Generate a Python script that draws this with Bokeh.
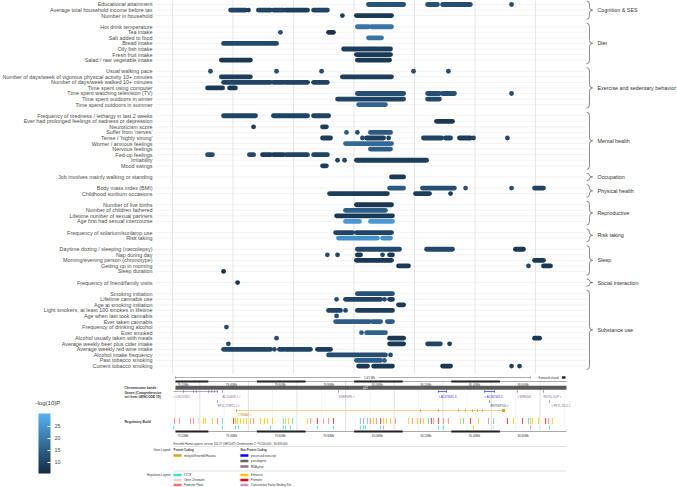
import numpy as np
from bokeh.plotting import figure
from bokeh.models import Range1d, FixedTicker, LinearColorMapper, ColorBar, ColumnDataSource
from bokeh.transform import transform
from bokeh.core.properties import value
from bokeh.embed import file_html
from bokeh.resources import INLINE

FONT = "Liberation Sans"

# ---------------------------------------------------------------- data
group_names = ["Cognition & SES", "Diet", "Exercise and sedentary behavior", "Mental health",
               "Occupation", "Physical health", "Reproductive", "Risk taking", "Sleep",
               "Social interaction", "Substance use"]
group_sizes = [3, 7, 7, 10, 1, 2, 4, 2, 5, 1, 14]

trait_labels = [
    "Educational attainment", "Average total household income before tax", "Number in household",
    "Hot drink temperature", "Tea intake", "Salt added to food", "Bread intake", "Oily fish intake",
    "Fresh fruit intake", "Salad / raw vegetable intake",
    "Usual walking pace", "Number of days/week of vigorous physical activity 10+ minutes",
    "Number of days/week walked 10+ minutes", "Time spent using computer",
    "Time spent watching television (TV)", "Time spent outdoors in winter", "Time spend outdoors in summer",
    "Frequency of tiredness / lethargy in last 2 weeks", "Ever had prolonged feelings of sadness or depression",
    "Neuroticism score", "Suffer from 'nerves'", "Tense / 'highly strung'", "Worrier / anxious feelings",
    "Nervous feelings", "Fed-up feelings", "Irritability", "Mood swings",
    "Job involves mainly walking or standing",
    "Body mass index (BMI)", "Childhood sunburn occasions",
    "Number of live births", "Number of children fathered", "Lifetime number of sexual partners",
    "Age first had sexual intercourse",
    "Frequency of solarium/sunlamp use", "Risk taking",
    "Daytime dozing / sleeping (narcolepsy)", "Nap during day", "Morning/evening person (chronotype)",
    "Getting up in morning", "Sleep duration",
    "Frequency of friend/family visits",
    "Smoking initiation", "Lifetime cannabis use", "Age at smoking initiation",
    "Light smokers, at least 100 smokes in lifetime", "Age when last took cannabis", "Ever taken cannabis",
    "Frequency of drinking alcohol", "Ever smoked", "Alcohol usually taken with meals",
    "Average weekly beer plus cider intake", "Average weekly red wine intake", "Alcohol intake frequency",
    "Past tobacco smoking", "Current tobacco smoking"]

# SNP clusters (position in Mb): trait row, first SNP, last SNP, -log10 P
snp_row = [0, 0, 0, 0,
           1, 1, 1, 1, 1, 1,
           2, 2,
           3, 3, 4, 4, 5, 6, 7, 8, 9, 9,
           10, 10, 10, 10, 10, 11, 11, 12, 12, 12, 12, 13, 13,
           14, 14, 14, 14, 15, 15, 16,
           17, 17, 17, 18, 19, 19, 20, 20, 20,
           21, 21, 21, 21, 21, 21, 21, 21, 21,
           22, 23, 24, 24, 24, 24, 24, 24, 25, 25, 25, 26,
           27, 28, 28, 28, 28, 28, 29, 29, 29,
           30, 31, 32, 33, 33, 33, 34, 34, 35, 35,
           36, 36, 36, 37, 37, 37, 37, 37, 38, 38, 39, 39, 39, 40, 41,
           42, 43, 43, 43, 43, 44, 45, 45, 45, 46, 47, 47, 47, 48, 49, 49,
           50, 50, 50, 51, 51, 51, 51, 52, 52, 52, 52, 52, 53, 53, 53, 54, 54,
           55, 55, 55, 55, 55]
snp_start = [80.060, 80.304, 80.366, 80.651,
             79.490, 79.564, 79.605, 79.667, 79.717, 79.833,
             79.952, 80.010,
             80.014, 80.072, 79.696, 79.895, 80.060, 79.461, 79.957, 80.010, 79.452, 80.014,
             79.407, 79.680, 79.866, 80.246, 80.390, 79.452, 79.952, 79.461, 79.667, 79.717, 79.833, 79.395, 79.486,
             80.014, 80.304, 80.366, 80.651, 79.932, 80.304, 80.019,
             79.461, 79.667, 79.833, 80.341, 79.585, 79.870, 79.969, 80.014, 80.068,
             79.870, 80.035, 80.052, 80.143, 80.287, 80.378, 80.436, 80.494, 80.634,
             79.965, 80.068, 79.395, 79.568, 79.622, 79.667, 79.721, 79.833, 79.932, 79.961, 80.010, 79.870,
             80.155, 80.147, 80.283, 80.461, 80.651, 80.746, 79.899, 80.254, 80.399,
             80.010, 79.965, 79.928, 79.965, 80.068, 80.097, 79.924, 80.010, 79.936, 80.118,
             80.014, 80.300, 80.667, 79.890, 79.932, 80.014, 80.118, 80.147, 80.010, 80.746, 80.184, 80.721, 80.783,
             79.461, 79.519,
             80.014, 79.928, 79.965, 80.126, 80.147, 80.184, 79.895, 79.965, 80.014, 79.928, 79.924, 80.076, 80.138,
             79.473, 80.031, 80.052,
             79.680, 80.147, 80.746, 79.481, 80.147, 80.304, 80.395, 79.461, 79.671, 79.692, 79.717, 79.849,
             79.895, 80.027, 80.151, 80.010, 80.126,
             80.019, 80.081, 80.366, 80.651, 80.684]
snp_end = [80.205, 80.345, 80.481, 80.651,
           79.552, 79.564, 79.655, 79.709, 79.808, 79.890,
           79.952, 80.155,
           80.060, 80.155, 79.696, 79.915, 80.114, 79.680, 80.151, 80.151, 79.572, 80.147,
           79.407, 79.680, 79.866, 80.246, 80.390, 79.572, 80.155, 79.655, 79.709, 79.808, 79.890, 79.457, 79.510,
           80.205, 80.353, 80.415, 80.651, 80.205, 80.353, 80.130,
           79.593, 79.808, 79.895, 80.407, 79.585, 79.886, 79.969, 80.014, 80.151,
           79.903, 80.035, 80.122, 80.143, 80.362, 80.399, 80.481, 80.494, 80.634,
           80.155, 80.151, 79.415, 79.585, 79.655, 79.709, 79.808, 79.890, 79.932, 79.961, 80.300, 79.886,
           80.205, 80.205, 80.415, 80.461, 80.651, 80.783, 80.138, 80.312, 80.399,
           80.155, 80.130, 80.159, 80.023, 80.089, 80.159, 79.994, 80.155, 80.097, 80.151,
           80.188, 80.407, 80.700, 79.890, 79.932, 80.027, 80.118, 80.159, 80.155, 80.783, 80.225, 80.721, 80.812,
           79.461, 79.519,
           80.159, 79.928, 80.110, 80.126, 80.159, 80.205, 79.944, 79.965, 80.159, 79.928, 80.064, 80.110, 80.159,
           79.473, 80.031, 80.130,
           79.680, 80.205, 80.767, 79.481, 80.205, 80.357, 80.395, 79.655, 79.671, 79.709, 79.820, 79.903,
           80.019, 80.130, 80.151, 80.110, 80.126,
           80.056, 80.159, 80.399, 80.651, 80.684]
snp_logp = [13, 13, 12, 12,
            10, 9, 10, 10, 9, 10,
            9, 8,
            19, 19, 12, 7, 19, 11, 9, 8, 8, 8,
            12, 12, 12, 12, 12, 9, 9, 10, 10, 10, 10, 8, 8,
            12, 12, 12, 12, 10, 11, 16,
            10, 10, 10, 8, 9, 9, 14, 12, 14,
            9, 11, 9, 10, 10, 10, 9, 10, 11,
            17, 15, 12, 11, 9, 9, 10, 10, 10, 11, 9, 9,
            8, 14, 12, 13, 12, 10, 9, 9, 9,
            8, 15, 8, 26, 26, 26, 10, 10, 24, 24,
            11, 11, 8, 12, 10, 8, 11, 8, 8, 8, 8, 11, 8,
            7, 8,
            13, 12, 10, 11, 9, 8, 10, 11, 9, 12, 15, 15, 15,
            12, 15, 16,
            12, 8, 8, 12, 8, 10, 9, 10, 11, 10, 10, 9,
            12, 12, 12, 15, 15,
            8, 8, 8, 10, 10]
grid_ticks = [79.25, 79.50, 79.75, 80.00, 80.25, 80.50, 80.75]
logp_low, logp_high = 5.4, 30.4
colorbar_ticks = [10, 15, 20, 25]

# Ensembl region view (positions in Mb)
ruler_ticks = [79.2, 79.4, 79.6, 79.8, 80.0, 80.2, 80.4, 80.6]
ruler_labels = ["79.20Mb", "79.40Mb", "79.60Mb", "79.80Mb", "80.00Mb", "80.20Mb", "80.40Mb", "80.60Mb"]
region_start, region_end = 79.2, 80.809
ctnna2_start, ctnna2_end = 79.451, 80.550
ctnna2_exons = [79.451, 80.208, 80.282, 80.365, 80.393, 80.422, 80.443, 80.463]
lnc_start, lnc_end = 79.192, 79.373
lnc_exons = [79.233, 79.274, 79.286, 79.336, 79.348, 79.360, 79.373]
rna_ticks = [79.393, 79.871, 80.607, 80.714]
rna_ticks_low = [79.373, 80.739]
proc_start = [80.282, 80.472]
proc_end = [80.315, 80.513]
pseudo_ticks = [80.492]
gene_lab_x = [79.192, 79.393, 79.871, 80.607, 80.714, 79.373, 80.747]
gene_lab_y = [396, 396, 396, 396, 396, 405, 405]
gene_lab_text = ["< LINC01815", "AC104698.1 >", "SNRPGP8 >", "< MIR4264", "RN7SL105P >", "RP11-728P21.2 >", "< RP11-1N11.2"]
proc_lab_x = [80.282, 80.472]
proc_lab_text = ["< AC073091.3", "< AC007401.2"]

reg_up_pos = [79.196, 79.216, 79.262, 79.274, 79.295, 79.315, 79.323, 79.352, 79.373, 79.393,
              79.439, 79.447, 79.455, 79.467, 79.480, 79.492, 79.509, 79.521, 79.550, 79.566,
              79.579, 79.599, 79.644, 79.653, 79.665, 79.681, 79.743, 79.756, 79.784, 79.809,
              79.830, 79.850, 79.961, 79.974, 79.990, 80.002, 80.015, 80.027, 80.044, 80.056,
              80.068, 80.085, 80.105, 80.159, 80.175, 80.196, 80.208, 80.221, 80.241, 80.253,
              80.262, 80.282, 80.303, 80.323, 80.373, 80.385, 80.414, 80.447, 80.488, 80.509,
              80.566, 80.591, 80.628, 80.653, 80.661, 80.669, 80.694, 80.723, 80.735, 80.751]
reg_up_type = ["pf", "pf", "pf", "pf", "oc", "enh", "enh", "enh", "pf", "ctcf",
               "pr", "enh", "enh", "enh", "enh", "enh", "enh", "pf", "enh", "enh",
               "enh", "enh", "ctcf", "enh", "enh", "ctcf", "enh", "pf", "pr", "tf",
               "pf", "pr", "ctcf", "pf", "ctcf", "pf", "enh", "pf", "pr", "enh",
               "enh", "enh", "pf", "enh", "pf", "enh", "pf", "enh", "ctcf", "pr",
               "pf", "pr", "pf", "pf", "enh", "ctcf", "pr", "enh", "pf", "ctcf",
               "pr", "enh", "pr", "ctcf", "enh", "enh", "enh", "pr", "pf", "enh"]
reg_low_pos = [79.192, 79.393, 79.447, 79.459, 79.591, 79.644, 79.653, 79.673, 79.784, 79.850,
               79.961, 79.974, 79.982, 80.044, 80.056, 80.282, 80.303, 80.426, 80.509, 80.661, 80.739]
reg_low_type = ["ctcf", "ctcf", "ctcf", "ctcf", "ctcf", "ctcf", "ctcf", "ctcf", "ctcf", "ctcf",
                "ctcf", "ctcf", "ctcf", "ctcf", "pf", "ctcf", "ctcf", "enh", "oc", "pf", "ctcf"]
reg_colors = {"ctcf": "#40e0d0", "enh": "#fac800", "pr": "#ff2020", "pf": "#ff8080",
              "oc": "#d8d8d8", "tf": "#cd96cd"}

gene_legend_left = [("merged Ensembl/Havana", "#d9a520")]
gene_legend_right = [("processed transcript", "#0000ff"), ("pseudogene", "#666666"), ("RNA gene", "#8b6f99")]
reg_legend_left = [("CTCF", "#40e0d0"), ("Open Chromatin", "#d8d8d8"), ("Promoter Flank", "#ff7070")]
reg_legend_right = [("Enhancer", "#fac800"), ("Promoter", "#ff0000"), ("Transcription Factor Binding Site", "#cd96cd")]

# ---------------------------------------------------------------- helpers
def lerp_palette(c0, c1, n=256):
    a = np.array([int(c0[i:i + 2], 16) for i in (1, 3, 5)], float)
    bb = np.array([int(c1[i:i + 2], 16) for i in (1, 3, 5)], float)
    out = []
    for t in np.linspace(0, 1, n):
        c = a + (bb - a) * t
        out.append("#%02x%02x%02x" % tuple(int(round(v)) for v in c))
    return out

palette = lerp_palette("#132B43", "#56B1F7")
mapper = LinearColorMapper(palette=palette, low=logp_low, high=logp_high)

row_slot = []
group_first, group_last = [], []
s = 0
for gsize in group_sizes:
    group_first.append(s)
    for k in range(gsize):
        row_slot.append(s)
        s += 1
    group_last.append(s - 1)
    s += 1

# ---------------------------------------------------------------- one canvas, two coordinate systems
X0, X1 = 78.5393, 81.3368          # SNP panel positions (Mb)
Y_TOP, Y_BOT = -0.719, 86.84       # SNP panel trait slots
p = figure(width=677, height=487, x_range=Range1d(X0, X1), y_range=Range1d(Y_BOT, Y_TOP),
           output_backend="svg", toolbar_location=None, x_axis_location=None, y_axis_location=None,
           min_border=0)
p.extra_x_ranges = {"gbx": Range1d(78.4798, 81.2658)}     # Ensembl view positions (Mb)
p.extra_y_ranges = {"gby": Range1d(487, 0)}
p.outline_line_color = None
p.grid.visible = False

GB = dict(x_range_name="gbx", y_range_name="gby")

def txt(x, y, t, size="3.5px", color="#333333", align="left", style="normal", **kw):
    p.text(x=x, y=y, text=t, text_font=value(FONT), text_font_size=value(size),
           text_baseline="middle", text_align=align, text_color=color, text_font_style=style, **kw)

# ---- SNP panel
frame_left, grid_right = 79.1798, 80.961
p.segment(x0=[frame_left] * len(row_slot), x1=[grid_right] * len(row_slot), y0=row_slot, y1=row_slot,
          line_color="#ebebeb", line_width=0.6)
p.segment(x0=grid_ticks, x1=grid_ticks, y0=[Y_TOP] * len(grid_ticks), y1=[66.3] * len(grid_ticks),
          line_color="#e3e3e3", line_width=0.9)
txt([79.1674] * len(row_slot), row_slot, trait_labels, size="5.4px", color="#4d4d4d", align="right")

ys = [row_slot[r] for r in snp_row]
seg_src = ColumnDataSource(dict(x0=snp_start, x1=snp_end, y=ys, logp=snp_logp))
p.segment(x0="x0", x1="x1", y0="y", y1="y", source=seg_src, line_width=4.8, line_cap="round",
          line_color=transform("logp", mapper))

bx0, bx1, bx2 = 80.961, 80.973, 80.986
for name, a, bnd in zip(group_names, group_first, group_last):
    y0, y1 = a - 0.65, bnd + 0.65
    ym = (y0 + y1) / 2
    r = min(0.6, (y1 - y0) / 4)
    p.quadratic(x0=[bx0, bx1, bx2, bx1], y0=[y0, ym - r, ym, y1 - r],
                x1=[bx1, bx2, bx1, bx0], y1=[y0 + r, ym, ym + r, y1],
                cx=[bx1, bx1, bx1, bx1], cy=[y0, ym, ym, y1], line_color="#555555", line_width=0.7)
    p.segment(x0=[bx1, bx1], x1=[bx1, bx1], y0=[y0 + r, ym + r], y1=[ym - r, y1 - r],
              line_color="#555555", line_width=0.7)
    txt([81.006], [ym], [name], size="5.4px", color="#333333")

# ---- Ensembl region view
vx = [region_start + 0.1 * k for k in range(17)]
p.segment(x0=vx, x1=vx, y0=[380] * len(vx), y1=[431] * len(vx),
          line_color=["#cfcfcf" if k % 2 else "#ececec" for k in range(17)], line_width=0.6, **GB)

p.segment(x0=[region_start, 80.035], x1=[79.961, 80.661], y0=[377, 377], y1=[377, 377],
          line_color="#777777", line_width=0.6, **GB)
p.segment(x0=[region_start, 80.661], x1=[region_start, 80.661], y0=[375.8, 375.8], y1=[378.2, 378.2],
          line_color="#777777", line_width=0.6, **GB)
txt([79.998], [377], ["1.61 Mb"], align="center", size="3px", **GB)
txt([80.694], [377], ["Forward strand"], size="3px", **GB)
p.quad(left=[80.790], right=[80.805], top=[375.8], bottom=[378.2], fill_color="#222222", line_color=None, **GB)

def ruler(y, lab_y):
    p.segment(x0=[region_start], x1=[region_end], y0=[y], y1=[y], line_color="#555555", line_width=0.5, **GB)
    lefts = [t - 0.065 for t in ruler_ticks] + [80.735]
    for i in range(len(lefts) - 1):
        if i % 2 == 0:
            l = max(lefts[i], region_start)
            p.quad(left=[l], right=[lefts[i + 1]], top=[y - 0.9], bottom=[y + 0.9],
                   fill_color="#222222", line_color=None, **GB)
    txt([t + 0.008 for t in ruler_ticks], [lab_y] * len(ruler_ticks), ruler_labels, size="2.8px", **GB)

ruler(381, 383.6)
ruler(431, 435)

p.quad(left=[region_start], right=[region_end], top=[385.2], bottom=[389.2], fill_color="#5a5a5a",
       line_color=None, **GB)
txt([79.982], [387.2], ["p12"], size="2.8px", color="white", align="center", **GB)

txt([78.990], [387], ["Chromosome bands"], style="bold", size="3.3px", **GB)
txt([78.990, 78.990], [392, 396.5], ["Genes (Comprehensive", "set from GENCODE 19)"], style="bold", size="3.3px", **GB)
txt([78.990], [421], ["Regulatory Build"], style="bold", size="3.3px", **GB)

purple = "#8b6f99"
p.segment(x0=[lnc_start], x1=[lnc_end], y0=[391], y1=[391], line_color=purple, line_width=0.6, **GB)
tx = lnc_exons + rna_ticks + rna_ticks_low
p.segment(x0=tx, x1=tx,
          y0=[389.8] * (len(lnc_exons) + len(rna_ticks)) + [399.8] * len(rna_ticks_low),
          y1=[392.2] * (len(lnc_exons) + len(rna_ticks)) + [402.2] * len(rna_ticks_low),
          line_color=purple, line_width=0.8, **GB)
txt(gene_lab_x, gene_lab_y, gene_lab_text, size="2.8px", color=purple, **GB)
p.segment(x0=proc_start, x1=proc_end, y0=[391, 391], y1=[391, 391], line_color="#2b2bff", line_width=0.7, **GB)
p.segment(x0=proc_start + proc_end, x1=proc_start + proc_end, y0=[389.8] * 4, y1=[392.2] * 4,
          line_color="#2b2bff", line_width=0.7, **GB)
txt(proc_lab_x, [396, 396], proc_lab_text, size="2.8px", color="#2b2bff", **GB)
p.segment(x0=pseudo_ticks, x1=pseudo_ticks, y0=[399.8], y1=[402.2], line_color="#666666", line_width=0.8, **GB)
txt([80.496], [405], ["RN7SKP164 >"], size="2.8px", color="#555555", **GB)

p.segment(x0=[ctnna2_start], x1=[ctnna2_end], y0=[410], y1=[410], line_color="#f1d08a", line_width=1.2, **GB)
p.segment(x0=ctnna2_exons, x1=ctnna2_exons, y0=[408.6] * len(ctnna2_exons), y1=[411.4] * len(ctnna2_exons),
          line_color="#e0a82a", line_width=0.9, **GB)
p.quad(left=[ctnna2_end - 0.006], right=[ctnna2_end + 0.006], top=[408.4], bottom=[411.6],
       fill_color="#e0a020", line_color=None, **GB)
txt([79.455], [414], ["CTNNA2 >"], size="2.8px", color="#d08a10", **GB)

w = 0.0045
p.quad(left=[v - w / 2 for v in reg_up_pos], right=[v + w / 2 for v in reg_up_pos],
       top=[417.5] * len(reg_up_pos), bottom=[423.5] * len(reg_up_pos),
       fill_color=[reg_colors[t] for t in reg_up_type], fill_alpha=0.8, line_color=None, **GB)
p.quad(left=[v - w / 2 for v in reg_low_pos], right=[v + w / 2 for v in reg_low_pos],
       top=[425] * len(reg_low_pos), bottom=[428.8] * len(reg_low_pos),
       fill_color=[reg_colors[t] for t in reg_low_type], fill_alpha=0.8, line_color=None, **GB)

txt([79.192], [443.5], ["Ensembl Homo sapiens version 102.37 (GRCh37) Chromosome 2: 79,200,000 - 80,809,000"],
    size="2.8px", **GB)
p.segment(x0=[79.192, 79.192], x1=[region_end, region_end], y0=[446, 470.5], y1=[446, 470.5],
          line_color="#cccccc", line_width=0.6, **GB)
txt([79.179], [449.5], ["Gene Legend"], align="right", size="2.8px", **GB)
txt([79.192], [449.5], ["Protein Coding"], size="2.8px", style="bold", **GB)
txt([79.467], [449.5], ["Non-Protein Coding"], size="2.8px", style="bold", **GB)
txt([79.179], [474.5], ["Regulation Legend"], align="right", size="2.8px", **GB)

def legend_col(items, x, y_start, step):
    for i, (lab, col) in enumerate(items):
        yy = y_start + i * step
        p.quad(left=[x], right=[x + 0.033], top=[yy - 1.3], bottom=[yy + 1.3], fill_color=col,
               line_color=None, **GB)
        txt([x + 0.043], [yy], [lab], size="2.8px", **GB)

legend_col(gene_legend_left, 79.192, 455, 5.5)
legend_col(gene_legend_right, 79.467, 455, 5.5)
legend_col(reg_legend_left, 79.192, 474.5, 5)
legend_col(reg_legend_right, 79.467, 474.5, 5)

# ---- colour bar
txt([78.624], [402], ["-log(10)P"], size="6px", color="#333333", **GB)
cb = ColorBar(color_mapper=mapper, ticker=FixedTicker(ticks=colorbar_ticks), width=12, height=60,
              location=(36, 12), padding=2, major_label_text_font=FONT, major_label_text_font_size="5.5px",
              major_label_text_color="#4d4d4d", major_tick_line_color="white", major_tick_in=3,
              major_tick_out=0, bar_line_color=None, background_fill_alpha=0, border_line_color=None,
              label_standoff=4)
p.add_layout(cb)

open("out.html", "w").write(file_html(p, INLINE))
